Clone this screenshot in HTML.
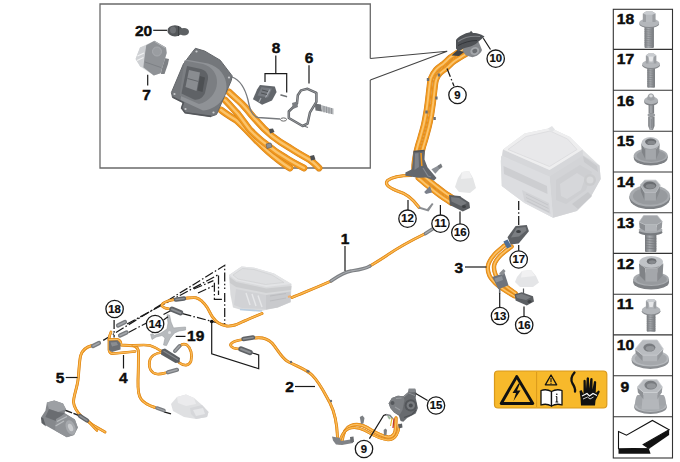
<!DOCTYPE html>
<html>
<head>
<meta charset="utf-8">
<title>Diagram</title>
<style>
html,body{margin:0;padding:0;background:#fff;}
body{width:680px;height:462px;overflow:hidden;font-family:"Liberation Sans",sans-serif;}
svg{display:block;}
text{font-family:"Liberation Sans",sans-serif;font-weight:bold;fill:#0d0d0d;}
.lbl,.col{stroke:#0d0d0d;stroke-width:0.45px;}
.cn{stroke:#0d0d0d;stroke-width:0.2px;}
.lbl{font-size:15.5px;}
.col{font-size:14.6px;}
.cn{font-size:10.6px;text-anchor:middle;}
.ld{stroke:#1a1a1a;stroke-width:1.2;fill:none;}
.dd{stroke:#1a1a1a;stroke-width:1.25;fill:none;stroke-dasharray:9 2.2 1.6 2.2;}
.circ{fill:#fff;stroke:#1a1a1a;stroke-width:1.3;}
.cb{fill:none;stroke:#e0861a;stroke-linecap:round;stroke-linejoin:round;}
.ch{fill:none;stroke:#f8b350;stroke-linecap:round;stroke-linejoin:round;}
</style>
</head>
<body>
<svg width="680" height="462" viewBox="0 0 680 462">
<defs>
<linearGradient id="gm" x1="0" y1="0" x2="1" y2="0">
<stop offset="0" stop-color="#74777b"/><stop offset="0.4" stop-color="#a9acb0"/><stop offset="1" stop-color="#707377"/>
</linearGradient>
<linearGradient id="gv" x1="0" y1="0" x2="0" y2="1">
<stop offset="0" stop-color="#c4c7ca"/><stop offset="1" stop-color="#85888b"/>
</linearGradient>
</defs>
<rect width="680" height="462" fill="#fff"/>

<!-- INSET BOX -->
<g id="inset">
<path d="M370.300 58.500 V4 H100 V168 H370.300 V80" fill="none" stroke="#6a6a6a" stroke-width="1.300"/>
<path d="M370.300 58.500 L447.200 51.200 L370.300 80" fill="none" stroke="#444" stroke-width="1.100" stroke-linejoin="miter"/>
</g>

<!-- RIGHT COLUMN -->
<g id="column">
<rect x="613.300" y="9.300" width="59.200" height="448.700" fill="#fff" stroke="#333" stroke-width="1.100"/>
<g stroke="#333" stroke-width="1.100">
<line x1="613.300" x2="672.500" y1="49.4" y2="49.4"/>
<line x1="613.300" x2="672.500" y1="90.3" y2="90.3"/>
<line x1="613.300" x2="672.500" y1="131.3" y2="131.3"/>
<line x1="613.300" x2="672.500" y1="172.0" y2="172.0"/>
<line x1="613.300" x2="672.500" y1="212.8" y2="212.8"/>
<line x1="613.300" x2="672.500" y1="253.4" y2="253.4"/>
<line x1="613.300" x2="672.500" y1="294.2" y2="294.2"/>
<line x1="613.300" x2="672.500" y1="334.9" y2="334.9"/>
<line x1="613.300" x2="672.500" y1="375.8" y2="375.8"/>
<line x1="613.300" x2="672.500" y1="416.8" y2="416.8"/>
</g>
<rect x="644.5" y="22.7" width="9.4" height="25.3" rx="1" fill="url(#gm)"/>
<path d="M644.5 29.4 L653.9000000000001 30.2 M644.5 31.6 L653.9000000000001 32.4 M644.5 33.8 L653.9000000000001 34.6 M644.5 36.0 L653.9000000000001 36.8 M644.5 38.2 L653.9000000000001 39.0 M644.5 40.4 L653.9000000000001 41.2 M644.5 42.6 L653.9000000000001 43.4 M644.5 44.8 L653.9000000000001 45.6 " stroke="#808387" stroke-width="0.700" fill="none"/>
<ellipse cx="649.2" cy="23.9" rx="10" ry="4.2" fill="#86898d"/>
<ellipse cx="649.2" cy="22.7" rx="10" ry="4.2" fill="#b4b7bb"/>
<path d="M642.8000000000001 13.6 L646.0 11.6 L652.4000000000001 11.6 L655.6 13.6 L655.6 22.1 L642.8000000000001 22.1 Z" fill="#9c9fa3"/>
<path d="M646.0 14.1 H652.4000000000001 V22.1 H646.0 Z" fill="#b8bbbf"/>
<path d="M642.8000000000001 13.6 L646.0 11.6 L652.4000000000001 11.6 L655.6 13.6 L652.4000000000001 14.8 L646.0 14.8 Z" fill="#c9ccd0"/>
<rect x="647.25" y="64" width="7.7" height="23.799999999999997" rx="1" fill="url(#gm)"/>
<path d="M647.25 70.5 L654.95 71.3 M647.25 72.7 L654.95 73.5 M647.25 74.9 L654.95 75.7 M647.25 77.1 L654.95 77.9 M647.25 79.3 L654.95 80.1 M647.25 81.5 L654.95 82.3 M647.25 83.7 L654.95 84.5 M647.25 85.9 L654.95 86.7 " stroke="#808387" stroke-width="0.700" fill="none"/>
<ellipse cx="651.1" cy="65.2" rx="8.9" ry="4" fill="#86898d"/>
<ellipse cx="651.1" cy="64" rx="8.9" ry="4" fill="#b4b7bb"/>
<path d="M645.85 55.5 L648.475 53.5 L653.725 53.5 L656.35 55.5 L656.35 63.5 L645.85 63.5 Z" fill="#9c9fa3"/>
<path d="M648.475 56.0 H653.725 V63.5 H648.475 Z" fill="#b8bbbf"/>
<path d="M645.85 55.5 L648.475 53.5 L653.725 53.5 L656.35 55.5 L653.725 56.7 L648.475 56.7 Z" fill="#c9ccd0"/>
<path d="M648.500 56.500 L653.500 56.500 L652.500 61.500 L649.500 61.500 Z" fill="#e6e7e9"/>
<path d="M648.600 101 H654.100 V113.600 H648.600 Z" fill="url(#gm)"/>
<path d="M648.200 116.400 H654.500 V126 L653 130 H649.700 L648.200 126 Z" fill="url(#gm)"/>
<rect x="649.400" y="113" width="4" height="4" fill="#8d9094"/>
<rect x="647.600" y="113.800" width="7.500" height="2.400" rx="1.200" fill="#9a9da1"/>
<path d="M651.400 119 V128" stroke="#85888c" stroke-width="0.800"/>
<ellipse cx="651.100" cy="101.800" rx="7" ry="3.800" fill="#808387"/>
<ellipse cx="651.100" cy="100.400" rx="7" ry="3.800" fill="#b0b3b7"/>
<path d="M647.300 99.500 C647.300 95 649 93.600 651 93.600 C653 93.600 654.500 95 654.500 99.500 C653 101 649 101 647.300 99.500 Z" fill="#9fa2a6"/>
<ellipse cx="651" cy="96" rx="1.800" ry="1.400" fill="#dcdee0"/>
<ellipse cx="650.7" cy="158.0" rx="16.9" ry="7.6" fill="#7e8185"/>
<rect x="633.8000000000001" y="155.5" width="33.8" height="2.5" fill="#7e8185"/>
<ellipse cx="650.7" cy="155.5" rx="16.9" ry="7.6" fill="#a8abaf"/>
<ellipse cx="651.2" cy="155.8" rx="14.533999999999999" ry="6.08" fill="#979a9e"/>
<path d="M641.2 143.5 L645.5 149.6 L645.5 159.6 L641.8000000000001 152.0 Z" fill="#808387"/>
<path d="M659.8 143.5 L655.9 149.6 L655.9 159.6 L659.1999999999999 152.0 Z" fill="#888b8f"/>
<path d="M645.5 149.6 L655.9 149.6 L655.9 159.6 L645.5 159.6 Z" fill="#a4a7ab"/>
<path d="M641.2 143.5 L645.5 149.6 L655.9 149.6 L659.8 143.5 Z" fill="#9a9da1"/>
<ellipse cx="650.5" cy="143.05" rx="8.999999999999954" ry="6.049999999999997" fill="#c0c3c7"/>
<ellipse cx="650.7" cy="141.8" rx="5.6" ry="3.3" fill="#6a6d71"/>
<ellipse cx="651.4000000000001" cy="142.70000000000002" rx="4.032" ry="2.046" fill="#86898d"/>
<ellipse cx="649.8" cy="198.3" rx="20.3" ry="10.8" fill="#7e8185"/>
<rect x="629.5" y="195.8" width="40.6" height="2.5" fill="#7e8185"/>
<ellipse cx="649.8" cy="195.8" rx="20.3" ry="10.8" fill="#a8abaf"/>
<ellipse cx="650.3" cy="196.10000000000002" rx="17.458000000000002" ry="8.64" fill="#979a9e"/>
<path d="M640.3 185 L644.6 192.4 L644.6 200.6 L640.9 191.7 Z" fill="#808387"/>
<path d="M660.2 185 L655.9 192.4 L655.9 200.6 L659.6 191.7 Z" fill="#888b8f"/>
<path d="M644.6 192.4 L655.9 192.4 L655.9 200.6 L644.6 200.6 Z" fill="#a4a7ab"/>
<path d="M640.3 185 L644.6 180.2 L655.9 180.2 L660.2 185 L655.9 192.4 L644.6 192.4 Z" fill="#abaeb2" stroke="#bdc0c4" stroke-width="0.800" stroke-linejoin="round"/>
<ellipse cx="649.8" cy="185.4" rx="6.5" ry="3.9" fill="#6a6d71"/>
<ellipse cx="650.5" cy="186.3" rx="4.68" ry="2.418" fill="#86898d"/>
<rect x="645" y="232" width="11.400" height="20" rx="1" fill="url(#gm)"/>
<path d="M645 238 L656.400 238.800 M645 240.500 L656.400 241.300 M645 243 L656.400 243.800 M645 245.500 L656.400 246.300 M645 248 L656.400 248.800" stroke="#787b7f" stroke-width="0.800"/>
<ellipse cx="650.600" cy="232.300" rx="12" ry="3.200" fill="#787b7f"/>
<ellipse cx="650.600" cy="230" rx="12" ry="3.200" fill="#a9acb0"/>
<path d="M639.100 222 L645 224.700 L645 231 L639.600 228 Z" fill="#8a8d91"/>
<path d="M662.300 221.500 L656.800 224.700 L656.800 231 L661.800 228 Z" fill="#94979b"/>
<path d="M645 224.700 H656.800 V231.300 H645 Z" fill="#b1b4b8"/>
<path d="M639.100 222 L643.600 215.600 L657.300 215.600 L662.300 221.500 L656.800 224.700 L645 224.700 Z" fill="#a3a6aa" stroke="#b9bcc0" stroke-width="0.700" stroke-linejoin="round"/>
<ellipse cx="651.1" cy="282.5" rx="17.8" ry="7" fill="#7e8185"/>
<rect x="633.3000000000001" y="279" width="35.6" height="3.5" fill="#7e8185"/>
<ellipse cx="651.1" cy="279" rx="17.8" ry="7" fill="#a8abaf"/>
<ellipse cx="651.6" cy="279.3" rx="15.308" ry="5.6000000000000005" fill="#979a9e"/>
<path d="M639 263.5 L645.5 268.2 L645.5 281.59999999999997 L639.6 275.4 Z" fill="#808387"/>
<path d="M663.3 263.5 L657.2 268.2 L657.2 281.59999999999997 L662.6999999999999 275.4 Z" fill="#888b8f"/>
<path d="M645.5 268.2 L657.2 268.2 L657.2 281.59999999999997 L645.5 281.59999999999997 Z" fill="#a4a7ab"/>
<path d="M639 263.5 L645.5 268.2 L657.2 268.2 L663.3 263.5 Z" fill="#9a9da1"/>
<ellipse cx="651.15" cy="261.85" rx="11.849999999999977" ry="5.849999999999994" fill="#c0c3c7"/>
<ellipse cx="651.6" cy="261.2" rx="4.8" ry="3" fill="#6a6d71"/>
<ellipse cx="652.3000000000001" cy="262.09999999999997" rx="3.456" ry="1.8599999999999999" fill="#86898d"/>
<rect x="646.75" y="310" width="8.7" height="21.80000000000001" rx="1" fill="url(#gm)"/>
<path d="M646.75 316.9 L655.45 317.7 M646.75 319.1 L655.45 319.9 M646.75 321.3 L655.45 322.1 M646.75 323.5 L655.45 324.3 M646.75 325.7 L655.45 326.5 M646.75 327.9 L655.45 328.7 M646.75 330.1 L655.45 330.9 " stroke="#808387" stroke-width="0.700" fill="none"/>
<ellipse cx="651.1" cy="311.2" rx="9.3" ry="4.4" fill="#86898d"/>
<ellipse cx="651.1" cy="310" rx="9.3" ry="4.4" fill="#b4b7bb"/>
<path d="M645.9 301 L648.5 299 L653.7 299 L656.3000000000001 301 L656.3000000000001 308.5 L645.9 308.5 Z" fill="#9c9fa3"/>
<path d="M648.5 301.5 H653.7 V308.5 H648.5 Z" fill="#b8bbbf"/>
<path d="M645.9 301 L648.5 299 L653.7 299 L656.3000000000001 301 L653.7 302.2 L648.5 302.2 Z" fill="#c9ccd0"/>
<path d="M648.500 302 L653.700 302 L652.700 307 L649.500 307 Z" fill="#e6e7e9"/>
<ellipse cx="650.3" cy="360.7" rx="18.6" ry="8.2" fill="#8c8f93"/>
<rect x="631.6999999999999" y="358.4" width="37.2" height="2.3" fill="#8c8f93"/>
<ellipse cx="650.3" cy="358.4" rx="18.6" ry="8.2" fill="#b6b9bd"/>
<ellipse cx="650.8" cy="358.7" rx="15.996" ry="6.56" fill="#a5a8ac"/>
<path d="M635.1 348.9 L642.7 355.2 L642.7 361.2 L635.7 353.4 Z" fill="#8e9195"/>
<path d="M663.3 348.9 L657.2 355.2 L657.2 361.2 L662.6999999999999 353.4 Z" fill="#96999d"/>
<path d="M642.7 355.2 L657.2 355.2 L657.2 361.2 L642.7 361.2 Z" fill="#b2b5b9"/>
<path d="M635.1 348.9 L642.7 340 L657.2 340 L663.3 348.9 L657.2 355.2 L642.7 355.2 Z" fill="#b9bcc0" stroke="#cbced2" stroke-width="0.800" stroke-linejoin="round"/>
<ellipse cx="649.4" cy="347.6" rx="6" ry="4" fill="#787b7f"/>
<ellipse cx="650.1" cy="348.5" rx="4.32" ry="2.48" fill="#94979b"/>
<ellipse cx="650.5" cy="407.5" rx="16.2" ry="6.5" fill="#8c8f93"/>
<rect x="634.3" y="405.5" width="32.4" height="2" fill="#8c8f93"/>
<ellipse cx="650.5" cy="405.5" rx="16.2" ry="6.5" fill="#b6b9bd"/>
<ellipse cx="651.0" cy="405.8" rx="13.931999999999999" ry="5.2" fill="#a5a8ac"/>
<path d="M634.8 405.5 C635.3 398 636.5 396 637.5 395 L663.5 395 C664.5 396 665.7 398 666.2 405.5 Z" fill="#a2a5a9"/>
<path d="M642.7 395 L658.3 395 L659.41 409.4 L641.59 409.4 Z" fill="#b4b7bb"/>
<path d="M637.3 387 L643.6 392.5 L643.6 399.5 L637.9 392.5 Z" fill="#8e9195"/>
<path d="M662.4 387 L657.2 392.5 L657.2 399.5 L661.8 392.5 Z" fill="#96999d"/>
<path d="M643.6 392.5 L657.2 392.5 L657.2 399.5 L643.6 399.5 Z" fill="#b2b5b9"/>
<path d="M637.3 387 L643.6 379.7 L657.2 379.7 L662.4 387 L657.2 392.5 L643.6 392.5 Z" fill="#b9bcc0" stroke="#cbced2" stroke-width="0.800" stroke-linejoin="round"/>
<ellipse cx="650.7" cy="385.1" rx="6.3" ry="4.3" fill="#787b7f"/>
<ellipse cx="651.4000000000001" cy="386.0" rx="4.536" ry="2.666" fill="#94979b"/>
<path d="M618.500 448.800 L648.700 448.200 L650.600 453.800 L618.500 453.800 Z" fill="#111"/>
<path d="M643.200 444.500 L669.100 429.700 L669.100 435 L650.600 447.800 L648.700 448.200 Z" fill="#111"/>
<path d="M618.500 431.500 L626.500 435.200 L652.400 420.400 L669.100 429.700 L643.200 444.500 L648.700 448.200 L618.500 448.800 Z" fill="#fff" stroke="#111" stroke-width="1.100" stroke-linejoin="miter"/>

<g transform="translate(616.8 0) scale(1.075 1) translate(-616.8 0)">
<text class="col" x="616.8" y="24.3">18</text>
<text class="col" x="616.8" y="64.3">17</text>
<text class="col" x="616.8" y="105.7">16</text>
<text class="col" x="616.8" y="146.3">15</text>
<text class="col" x="616.8" y="186.8">14</text>
<text class="col" x="616.8" y="227.7">13</text>
<text class="col" x="616.8" y="268.7">12</text>
<text class="col" x="616.8" y="309.3">11</text>
<text class="col" x="616.8" y="350.2">10</text>
<text class="col" x="620.2" y="392.1">9</text>
</g>
</g>


<!-- DASH-DOT LINES -->
<g id="dashes">
<path class="dd" d="M103.200 340.400 L224.700 265.300 V289"/>
<path class="dd" d="M127 324 L218.500 274.600 V295"/>
<path class="dd" d="M128.500 332.500 L146.500 323 M163.500 314.500 L171 310.500"/>
<path class="dd" d="M193.800 289 L213.400 280.700 M214.400 282.800 V299.300 H224.700"/>
<path class="dd" d="M198 293 L213.400 285.900"/>
<path class="dd" d="M224.700 293 V324.500"/>
<path class="dd" d="M114.100 319.900 V337.400"/>
<path class="dd" d="M182.500 313.700 L211.700 321.300 L224.700 324.500"/>
<path class="dd" d="M518.700 201 V227"/>
<path d="M64.600 410 L79 415.500" stroke="#222" stroke-width="1.500" stroke-dasharray="8 1.500" fill="none"/>
<path class="ld" d="M164 411.800 L171 413.800"/>
<path class="ld" d="M211.700 321.500 V353.700 L258.700 368.700 V355 L251 352.500"/>
<circle cx="211.700" cy="321.500" r="1.800" fill="#111"/>
</g>

<!-- SMALL LIGHT UNIT (center) -->
<g id="unit2">
<path d="M229.100 274.900 L241.500 266.400 L254.500 267.700 L274 273.600 L291.500 284 L290.800 302.200 L277.800 307.400 L259.700 311.200 L241.500 310 L233 307.400 L230.400 294.400 Z" fill="#d9dadc"/>
<path d="M229.100 274.900 L241.500 266.400 L254.500 267.700 L274 273.600 L291.500 284 L266.200 287 L236.300 280.500 Z" fill="#e3e4e6"/>
<path d="M233 275 L242.500 268.500 L254 269.500 L272 275 L284 282.500 L265.500 284.500 L238 279 Z" fill="#dedfe1" stroke="#d0d1d3" stroke-width="0.700"/>
<path d="M229.500 277 L236.300 282 L266.200 288.500 L291.500 286 L291 290 L266 293 L236 287 L230 283 Z" fill="#cbccce"/>
<path d="M236 289 L266 295 L266 309 L242 308 L234 305 Z" fill="#d1d2d5"/>
<path d="M266 295 L290.500 291.500 L290.500 302 L277.800 307.400 L266 309.500 Z" fill="#c9cacd"/>
<path d="M246 293 L250 305 M252 294 L256 306 M258 295.500 L262 307" stroke="#e6e7e9" stroke-width="1.400" fill="none"/>
<path d="M270 296 L286 293.500 M270 301 L286 298" stroke="#bcbdc0" stroke-width="1.200" fill="none"/>
<path d="M240 309.500 L262 311" stroke="#b9cde0" stroke-width="1.600" fill="none"/>
<path d="M288 297 L291 296" stroke="#f0b070" stroke-width="2" fill="none"/>
</g>

<!-- BIG LIGHT UNIT (right) -->
<g id="unit1">
<path d="M503 149.500 L524.500 133.600 L550.700 128 L570 137 L582.500 149.500 L599.500 165.500 L600.700 179 L590.500 197.300 L576.800 211 L553 217.700 L524.500 203 L501.800 186 L500.700 161 Z" fill="#dfe0e2"/>
<path d="M549.500 176 L582.500 155 L599.500 165.500 L600.700 179 L590.500 197.300 L576.800 211 L553 217.700 Z" fill="#d3d4d7"/>
<path d="M501 156 L549.500 176 L553 217.700 L524.500 203 L501.800 186 Z" fill="#dcdde0"/>
<path d="M503.500 166 L547 186 L547.500 194 L504 174 Z" fill="#cdced1"/>
<path d="M522 190 L549 203 L550.500 214 L524.500 201 Z" fill="#d2d3d6"/>
<path d="M526 194 L548 205 M526 197.500 L548.500 208.500 M527 201 L549 212" stroke="#c4c5c8" stroke-width="0.900" fill="none"/>
<path d="M503 149.500 L549.500 170 L582.500 149.500 L583 155.500 L549.500 176.500 L502.500 156 Z" fill="#d6d7da"/>
<path d="M503 149.500 L524.500 133.600 L550.700 128 L570 137 L582.500 149.500 L549.500 170 Z" fill="#eeeeef"/>
<path d="M508 149.500 L526 136.500 L550 131 L567.500 139 L577 149.500 L549.500 166.500 Z" fill="#e8e8ea" stroke="#dadbdd" stroke-width="0.800"/>
<path d="M548 128.500 L552 126 L555 129.500 L552 132 Z" fill="#e3e4e6"/>
<path d="M556 180 L580 165 L592 172 L586 190 L566 204 L556 200 Z" fill="#cecfd2"/>
<path d="M560 184 L577 173 L585 178 L581 190 L567 199 L561 196 Z" fill="#d6d7da"/>
<circle cx="590" cy="180" r="6" fill="#cbccce"/>
<circle cx="590" cy="180" r="3.500" fill="#d8d9db"/>
<path d="M572 204 L588 192 L592 196 L578 209 Z" fill="#c8c9cc"/>
<path d="M583 156 L597 166 L598 172 L584 162 Z" fill="#c9cacd"/>
</g>

<!-- WHITE CAPS -->
<g id="caps">
<path d="M458 178 L462 172 L469 171 L473 178 L476 188 L470 193 L459 192 L455 187 Z" fill="#e4e5e6"/>
<path d="M462 172 L469 171 L472 178 L461 179 Z" fill="#f1f1f2"/>
<path d="M517 277 L522 271 L531 270 L536 276 L539 282.500 L533 287 L520 287 L515 282 Z" fill="#e4e5e7"/>
<path d="M522 271 L531 270 L535 276 L521 277.500 Z" fill="#f1f1f2"/>
<path d="M171 404 L177 397 L186 394.500 L194 398 L202 405 L208.500 412 L207 417 L196 419 L184 417 L173 411 Z" fill="#dfe0e2"/>
<path d="M177 397 L186 394.500 L194 398 L196 404 L186 406 L178 403 Z" fill="#ebebed"/>
<path d="M190 408 L202 405 L208.500 412 L207 417 L196 419 L191 414 Z" fill="#d6d7da"/>
<path d="M193 410 L203 408 L205 414 L196 416 Z" fill="#e6e7e9"/>
</g>

<!-- CABLES -->
<g id="cables">
<path d="M221 110 C226 114 231 117 236 120 C244 127 250 134 256 140 C263 147 269 153 276 158 C281 162 285 165 290 168" fill="none" stroke="#cf7e1b" stroke-width="6.8" stroke-linecap="round" stroke-linejoin="round"/>
<path d="M221 110 C226 114 231 117 236 120 C244 127 250 134 256 140 C263 147 269 153 276 158 C281 162 285 165 290 168" fill="none" stroke="#f0981f" stroke-width="6.0" stroke-linecap="round" stroke-linejoin="round"/>
<path d="M221 110 C226 114 231 117 236 120 C244 127 250 134 256 140 C263 147 269 153 276 158 C281 162 285 165 290 168" fill="none" stroke="#fbc46c" stroke-width="2.4000000000000004" stroke-linecap="round" stroke-linejoin="round"/>
<path d="M225 100 C230 105 234 110 238 114 C242 119 246 125 250 130 C255 135 260 140 266 144 C272 149 279 154 286 158 C292 162 298 165 304 168" fill="none" stroke="#cf7e1b" stroke-width="6.8" stroke-linecap="round" stroke-linejoin="round"/>
<path d="M225 100 C230 105 234 110 238 114 C242 119 246 125 250 130 C255 135 260 140 266 144 C272 149 279 154 286 158 C292 162 298 165 304 168" fill="none" stroke="#f0981f" stroke-width="6.0" stroke-linecap="round" stroke-linejoin="round"/>
<path d="M225 100 C230 105 234 110 238 114 C242 119 246 125 250 130 C255 135 260 140 266 144 C272 149 279 154 286 158 C292 162 298 165 304 168" fill="none" stroke="#fbc46c" stroke-width="2.4000000000000004" stroke-linecap="round" stroke-linejoin="round"/>
<path d="M229 92 C233 96 238 100 242 104 C247 109 251 115 256 120 C261 126 266 131 272 136 C277 140 283 144 290 148 C296 152 303 156 309.500 159.600 C313 162 316 165 319 168" fill="none" stroke="#cf7e1b" stroke-width="6.8" stroke-linecap="round" stroke-linejoin="round"/>
<path d="M229 92 C233 96 238 100 242 104 C247 109 251 115 256 120 C261 126 266 131 272 136 C277 140 283 144 290 148 C296 152 303 156 309.500 159.600 C313 162 316 165 319 168" fill="none" stroke="#f0981f" stroke-width="6.0" stroke-linecap="round" stroke-linejoin="round"/>
<path d="M229 92 C233 96 238 100 242 104 C247 109 251 115 256 120 C261 126 266 131 272 136 C277 140 283 144 290 148 C296 152 303 156 309.500 159.600 C313 162 316 165 319 168" fill="none" stroke="#fbc46c" stroke-width="2.4000000000000004" stroke-linecap="round" stroke-linejoin="round"/>
<path d="M464.6 48.6 C463.4 49.2 459.9 51.2 457.5 52.6 C455.2 54.1 452.6 55.5 450.3 57.3 C448.0 59.1 446.1 61.3 443.7 63.4 C441.3 65.4 438.0 67.2 435.9 69.6 C433.8 72.1 432.0 74.8 430.8 78.1 C429.7 81.4 429.6 85.5 429.0 89.6 C428.5 93.7 428.1 98.5 427.5 102.6 C427.0 106.8 426.4 110.9 425.7 114.5 C425.1 118.1 424.7 120.6 423.8 124.3 C422.9 128.1 421.3 133.6 420.3 137.2 C419.3 140.9 418.4 143.3 417.6 146.3 C416.8 149.3 416.1 152.4 415.5 155.5 C415.0 158.6 414.4 161.9 414.2 164.8 C414.0 167.7 414.2 171.6 414.2 173.0" fill="none" stroke="#cf7e1b" stroke-width="5.6" stroke-linecap="round" stroke-linejoin="round"/>
<path d="M464.6 48.6 C463.4 49.2 459.9 51.2 457.5 52.6 C455.2 54.1 452.6 55.5 450.3 57.3 C448.0 59.1 446.1 61.3 443.7 63.4 C441.3 65.4 438.0 67.2 435.9 69.6 C433.8 72.1 432.0 74.8 430.8 78.1 C429.7 81.4 429.6 85.5 429.0 89.6 C428.5 93.7 428.1 98.5 427.5 102.6 C427.0 106.8 426.4 110.9 425.7 114.5 C425.1 118.1 424.7 120.6 423.8 124.3 C422.9 128.1 421.3 133.6 420.3 137.2 C419.3 140.9 418.4 143.3 417.6 146.3 C416.8 149.3 416.1 152.4 415.5 155.5 C415.0 158.6 414.4 161.9 414.2 164.8 C414.0 167.7 414.2 171.6 414.2 173.0" fill="none" stroke="#f0981f" stroke-width="4.8" stroke-linecap="round" stroke-linejoin="round"/>
<path d="M464.6 48.6 C463.4 49.2 459.9 51.2 457.5 52.6 C455.2 54.1 452.6 55.5 450.3 57.3 C448.0 59.1 446.1 61.3 443.7 63.4 C441.3 65.4 438.0 67.2 435.9 69.6 C433.8 72.1 432.0 74.8 430.8 78.1 C429.7 81.4 429.6 85.5 429.0 89.6 C428.5 93.7 428.1 98.5 427.5 102.6 C427.0 106.8 426.4 110.9 425.7 114.5 C425.1 118.1 424.7 120.6 423.8 124.3 C422.9 128.1 421.3 133.6 420.3 137.2 C419.3 140.9 418.4 143.3 417.6 146.3 C416.8 149.3 416.1 152.4 415.5 155.5 C415.0 158.6 414.4 161.9 414.2 164.8 C414.0 167.7 414.2 171.6 414.2 173.0" fill="none" stroke="#fbc46c" stroke-width="1.92" stroke-linecap="round" stroke-linejoin="round"/>
<path d="M467.4 53.4 C466.2 54.1 462.7 56.0 460.5 57.4 C458.2 58.8 455.9 60.0 453.7 61.7 C451.5 63.4 449.6 65.7 447.3 67.6 C445.1 69.6 442.0 71.3 440.1 73.4 C438.2 75.4 437.1 77.1 436.2 79.9 C435.2 82.7 435.1 86.5 434.6 90.4 C434.1 94.3 433.6 99.2 433.1 103.4 C432.5 107.6 431.9 111.8 431.3 115.5 C430.6 119.2 430.2 121.8 429.2 125.7 C428.3 129.5 426.7 135.1 425.7 138.8 C424.7 142.4 423.8 144.7 423.0 147.7 C422.2 150.7 421.6 153.6 421.1 156.5 C420.5 159.4 420.0 162.5 419.8 165.2 C419.6 168.0 419.8 171.7 419.8 173.0" fill="none" stroke="#cf7e1b" stroke-width="5.6" stroke-linecap="round" stroke-linejoin="round"/>
<path d="M467.4 53.4 C466.2 54.1 462.7 56.0 460.5 57.4 C458.2 58.8 455.9 60.0 453.7 61.7 C451.5 63.4 449.6 65.7 447.3 67.6 C445.1 69.6 442.0 71.3 440.1 73.4 C438.2 75.4 437.1 77.1 436.2 79.9 C435.2 82.7 435.1 86.5 434.6 90.4 C434.1 94.3 433.6 99.2 433.1 103.4 C432.5 107.6 431.9 111.8 431.3 115.5 C430.6 119.2 430.2 121.8 429.2 125.7 C428.3 129.5 426.7 135.1 425.7 138.8 C424.7 142.4 423.8 144.7 423.0 147.7 C422.2 150.7 421.6 153.6 421.1 156.5 C420.5 159.4 420.0 162.5 419.8 165.2 C419.6 168.0 419.8 171.7 419.8 173.0" fill="none" stroke="#f0981f" stroke-width="4.8" stroke-linecap="round" stroke-linejoin="round"/>
<path d="M467.4 53.4 C466.2 54.1 462.7 56.0 460.5 57.4 C458.2 58.8 455.9 60.0 453.7 61.7 C451.5 63.4 449.6 65.7 447.3 67.6 C445.1 69.6 442.0 71.3 440.1 73.4 C438.2 75.4 437.1 77.1 436.2 79.9 C435.2 82.7 435.1 86.5 434.6 90.4 C434.1 94.3 433.6 99.2 433.1 103.4 C432.5 107.6 431.9 111.8 431.3 115.5 C430.6 119.2 430.2 121.8 429.2 125.7 C428.3 129.5 426.7 135.1 425.7 138.8 C424.7 142.4 423.8 144.7 423.0 147.7 C422.2 150.7 421.6 153.6 421.1 156.5 C420.5 159.4 420.0 162.5 419.8 165.2 C419.6 168.0 419.8 171.7 419.8 173.0" fill="none" stroke="#fbc46c" stroke-width="1.92" stroke-linecap="round" stroke-linejoin="round"/>
<path d="M418.3 178.0 C419.5 179.0 422.9 182.0 425.3 184.0 C427.8 186.0 430.2 187.9 432.9 190.0 C435.6 192.2 438.4 194.4 441.5 196.6 C444.6 198.8 449.9 202.1 451.6 203.2" fill="none" stroke="#cf7e1b" stroke-width="5.3999999999999995" stroke-linecap="round" stroke-linejoin="round"/>
<path d="M418.3 178.0 C419.5 179.0 422.9 182.0 425.3 184.0 C427.8 186.0 430.2 187.9 432.9 190.0 C435.6 192.2 438.4 194.4 441.5 196.6 C444.6 198.8 449.9 202.1 451.6 203.2" fill="none" stroke="#f0981f" stroke-width="4.6" stroke-linecap="round" stroke-linejoin="round"/>
<path d="M418.3 178.0 C419.5 179.0 422.9 182.0 425.3 184.0 C427.8 186.0 430.2 187.9 432.9 190.0 C435.6 192.2 438.4 194.4 441.5 196.6 C444.6 198.8 449.9 202.1 451.6 203.2" fill="none" stroke="#fbc46c" stroke-width="1.8399999999999999" stroke-linecap="round" stroke-linejoin="round"/>
<path d="M421.7 174.0 C422.9 175.0 426.3 178.0 428.7 180.0 C431.1 182.0 433.5 183.9 436.1 186.0 C438.7 188.0 441.4 190.2 444.5 192.4 C447.5 194.5 452.8 197.7 454.4 198.8" fill="none" stroke="#cf7e1b" stroke-width="5.3999999999999995" stroke-linecap="round" stroke-linejoin="round"/>
<path d="M421.7 174.0 C422.9 175.0 426.3 178.0 428.7 180.0 C431.1 182.0 433.5 183.9 436.1 186.0 C438.7 188.0 441.4 190.2 444.5 192.4 C447.5 194.5 452.8 197.7 454.4 198.8" fill="none" stroke="#f0981f" stroke-width="4.6" stroke-linecap="round" stroke-linejoin="round"/>
<path d="M421.7 174.0 C422.9 175.0 426.3 178.0 428.7 180.0 C431.1 182.0 433.5 183.9 436.1 186.0 C438.7 188.0 441.4 190.2 444.5 192.4 C447.5 194.5 452.8 197.7 454.4 198.8" fill="none" stroke="#fbc46c" stroke-width="1.8399999999999999" stroke-linecap="round" stroke-linejoin="round"/>
<path d="M411 175.500 C402 175.500 392 177 387.500 180.500 C384.500 184 388 187 396 190.500 C406 193.500 412 198 419 207.400" fill="none" stroke="#cf7e1b" stroke-width="3.1" stroke-linecap="round" stroke-linejoin="round"/>
<path d="M411 175.500 C402 175.500 392 177 387.500 180.500 C384.500 184 388 187 396 190.500 C406 193.500 412 198 419 207.400" fill="none" stroke="#f0981f" stroke-width="2.6" stroke-linecap="round" stroke-linejoin="round"/>
<path d="M411 175.500 C402 175.500 392 177 387.500 180.500 C384.500 184 388 187 396 190.500 C406 193.500 412 198 419 207.400" fill="none" stroke="#fbc46c" stroke-width="1.04" stroke-linecap="round" stroke-linejoin="round"/>
<path d="M425.5 233.5 C410 241 396 249 386 256 C380 260 375 263 370 266" fill="none" stroke="#cf7e1b" stroke-width="2.9" stroke-linecap="round" stroke-linejoin="round"/>
<path d="M425.5 233.5 C410 241 396 249 386 256 C380 260 375 263 370 266" fill="none" stroke="#f0981f" stroke-width="2.4" stroke-linecap="round" stroke-linejoin="round"/>
<path d="M425.5 233.5 C410 241 396 249 386 256 C380 260 375 263 370 266" fill="none" stroke="#fbc46c" stroke-width="0.96" stroke-linecap="round" stroke-linejoin="round"/>
<path d="M432.5 229 L425.5 233.500" fill="none" stroke="#7d8084" stroke-width="3.6" stroke-linecap="round" stroke-linejoin="round"/>
<path d="M432.5 229 L425.5 233.500" fill="none" stroke="#a9acb0" stroke-width="1.26" stroke-linecap="round" stroke-linejoin="round"/>
<path d="M331 281 C318 287 305 292 292 297.5" fill="none" stroke="#cf7e1b" stroke-width="2.9" stroke-linecap="round" stroke-linejoin="round"/>
<path d="M331 281 C318 287 305 292 292 297.5" fill="none" stroke="#f0981f" stroke-width="2.4" stroke-linecap="round" stroke-linejoin="round"/>
<path d="M331 281 C318 287 305 292 292 297.5" fill="none" stroke="#fbc46c" stroke-width="0.96" stroke-linecap="round" stroke-linejoin="round"/>
<path d="M370 266 C364 269.5 358 270 351 271 C343 272.500 337 277 331 281" fill="none" stroke="#7d8084" stroke-width="3.4" stroke-linecap="round" stroke-linejoin="round"/>
<path d="M370 266 C364 269.5 358 270 351 271 C343 272.500 337 277 331 281" fill="none" stroke="#a9acb0" stroke-width="1.19" stroke-linecap="round" stroke-linejoin="round"/>
<path d="M262.0 313.5 C260.0 314.3 253.3 317.1 250.0 318.5 C246.7 319.9 244.5 320.9 242.0 322.0 C239.5 323.1 237.5 324.3 235.0 325.0 C232.5 325.7 229.6 326.3 226.8 326.0 C224.1 325.7 220.9 324.5 218.5 323.0 C216.1 321.5 214.3 319.4 212.4 316.8 C210.5 314.2 208.9 310.1 207.2 307.5 C205.5 304.9 203.9 302.9 202.0 301.3 C200.1 299.7 198.6 298.3 195.9 297.8 C193.2 297.3 187.3 298.1 185.6 298.2" fill="none" stroke="#cf7e1b" stroke-width="2.9" stroke-linecap="round" stroke-linejoin="round"/>
<path d="M262.0 313.5 C260.0 314.3 253.3 317.1 250.0 318.5 C246.7 319.9 244.5 320.9 242.0 322.0 C239.5 323.1 237.5 324.3 235.0 325.0 C232.5 325.7 229.6 326.3 226.8 326.0 C224.1 325.7 220.9 324.5 218.5 323.0 C216.1 321.5 214.3 319.4 212.4 316.8 C210.5 314.2 208.9 310.1 207.2 307.5 C205.5 304.9 203.9 302.9 202.0 301.3 C200.1 299.7 198.6 298.3 195.9 297.8 C193.2 297.3 187.3 298.1 185.6 298.2" fill="none" stroke="#f0981f" stroke-width="2.4" stroke-linecap="round" stroke-linejoin="round"/>
<path d="M262.0 313.5 C260.0 314.3 253.3 317.1 250.0 318.5 C246.7 319.9 244.5 320.9 242.0 322.0 C239.5 323.1 237.5 324.3 235.0 325.0 C232.5 325.7 229.6 326.3 226.8 326.0 C224.1 325.7 220.9 324.5 218.5 323.0 C216.1 321.5 214.3 319.4 212.4 316.8 C210.5 314.2 208.9 310.1 207.2 307.5 C205.5 304.9 203.9 302.9 202.0 301.3 C200.1 299.7 198.6 298.3 195.9 297.8 C193.2 297.3 187.3 298.1 185.6 298.2" fill="none" stroke="#fbc46c" stroke-width="0.96" stroke-linecap="round" stroke-linejoin="round"/>
<path d="M175.0 299.5 C173.8 299.8 170.0 300.4 168.0 301.0 C166.0 301.6 164.0 302.6 163.0 303.4 C162.0 304.2 161.6 305.0 161.9 305.8 C162.2 306.6 163.7 307.5 165.0 308.0 C166.3 308.5 169.2 308.8 170.0 309.0" fill="none" stroke="#cf7e1b" stroke-width="2.7" stroke-linecap="round" stroke-linejoin="round"/>
<path d="M175.0 299.5 C173.8 299.8 170.0 300.4 168.0 301.0 C166.0 301.6 164.0 302.6 163.0 303.4 C162.0 304.2 161.6 305.0 161.9 305.8 C162.2 306.6 163.7 307.5 165.0 308.0 C166.3 308.5 169.2 308.8 170.0 309.0" fill="none" stroke="#f0981f" stroke-width="2.2" stroke-linecap="round" stroke-linejoin="round"/>
<path d="M175.0 299.5 C173.8 299.8 170.0 300.4 168.0 301.0 C166.0 301.6 164.0 302.6 163.0 303.4 C162.0 304.2 161.6 305.0 161.9 305.8 C162.2 306.6 163.7 307.5 165.0 308.0 C166.3 308.5 169.2 308.8 170.0 309.0" fill="none" stroke="#fbc46c" stroke-width="0.8800000000000001" stroke-linecap="round" stroke-linejoin="round"/>
<path d="M243 339.500 C238 340 231 342 230.500 345 C231 348 236 349 241 349" fill="none" stroke="#cf7e1b" stroke-width="2.7" stroke-linecap="round" stroke-linejoin="round"/>
<path d="M243 339.500 C238 340 231 342 230.500 345 C231 348 236 349 241 349" fill="none" stroke="#f0981f" stroke-width="2.2" stroke-linecap="round" stroke-linejoin="round"/>
<path d="M243 339.500 C238 340 231 342 230.500 345 C231 348 236 349 241 349" fill="none" stroke="#fbc46c" stroke-width="0.8800000000000001" stroke-linecap="round" stroke-linejoin="round"/>
<path d="M255 338 C262 337 268 339 272 343 C278 350 281 357 287 361 C296 366 306 369 312 375 C320 383 325 394 330 403 C335 413 337 424 337.500 437" fill="none" stroke="#cf7e1b" stroke-width="2.9" stroke-linecap="round" stroke-linejoin="round"/>
<path d="M255 338 C262 337 268 339 272 343 C278 350 281 357 287 361 C296 366 306 369 312 375 C320 383 325 394 330 403 C335 413 337 424 337.500 437" fill="none" stroke="#f0981f" stroke-width="2.4" stroke-linecap="round" stroke-linejoin="round"/>
<path d="M255 338 C262 337 268 339 272 343 C278 350 281 357 287 361 C296 366 306 369 312 375 C320 383 325 394 330 403 C335 413 337 424 337.500 437" fill="none" stroke="#fbc46c" stroke-width="0.96" stroke-linecap="round" stroke-linejoin="round"/>
<path d="M342 441 C343 434 345 427.500 351 425.500 C357 423.500 362 424.500 367 427.500 C374 431.500 380 436 388 437 C394 437.500 395.500 432 395.500 427 C396 423 396 421 396 418" fill="none" stroke="#cf7e1b" stroke-width="3.3" stroke-linecap="round" stroke-linejoin="round"/>
<path d="M342 441 C343 434 345 427.500 351 425.500 C357 423.500 362 424.500 367 427.500 C374 431.500 380 436 388 437 C394 437.500 395.500 432 395.500 427 C396 423 396 421 396 418" fill="none" stroke="#f0981f" stroke-width="2.8" stroke-linecap="round" stroke-linejoin="round"/>
<path d="M342 441 C343 434 345 427.500 351 425.500 C357 423.500 362 424.500 367 427.500 C374 431.500 380 436 388 437 C394 437.500 395.500 432 395.500 427 C396 423 396 421 396 418" fill="none" stroke="#fbc46c" stroke-width="1.1199999999999999" stroke-linecap="round" stroke-linejoin="round"/>
<path d="M339 443 C341 437 343 431 349 428.500 C355 426.500 360 428 365 430.500 C372 434.500 379 439 388 440 C396 440 399 432 399 425" fill="none" stroke="#cf7e1b" stroke-width="2.7" stroke-linecap="round" stroke-linejoin="round"/>
<path d="M339 443 C341 437 343 431 349 428.500 C355 426.500 360 428 365 430.500 C372 434.500 379 439 388 440 C396 440 399 432 399 425" fill="none" stroke="#f0981f" stroke-width="2.2" stroke-linecap="round" stroke-linejoin="round"/>
<path d="M339 443 C341 437 343 431 349 428.500 C355 426.500 360 428 365 430.500 C372 434.500 379 439 388 440 C396 440 399 432 399 425" fill="none" stroke="#fbc46c" stroke-width="0.8800000000000001" stroke-linecap="round" stroke-linejoin="round"/>
<path d="M504.5 245.5 C502.8 247.0 497.0 251.4 494.3 254.6 C491.6 257.8 489.1 261.4 488.2 264.8 C487.3 268.2 488.0 271.9 489.2 275.0 C490.4 278.1 492.8 280.6 495.3 283.1 C497.9 285.6 501.3 288.0 504.5 290.2 C507.7 292.4 512.9 295.3 514.6 296.3" fill="none" stroke="#cf7e1b" stroke-width="4.4" stroke-linecap="round" stroke-linejoin="round"/>
<path d="M504.5 245.5 C502.8 247.0 497.0 251.4 494.3 254.6 C491.6 257.8 489.1 261.4 488.2 264.8 C487.3 268.2 488.0 271.9 489.2 275.0 C490.4 278.1 492.8 280.6 495.3 283.1 C497.9 285.6 501.3 288.0 504.5 290.2 C507.7 292.4 512.9 295.3 514.6 296.3" fill="none" stroke="#f0981f" stroke-width="3.6" stroke-linecap="round" stroke-linejoin="round"/>
<path d="M504.5 245.5 C502.8 247.0 497.0 251.4 494.3 254.6 C491.6 257.8 489.1 261.4 488.2 264.8 C487.3 268.2 488.0 271.9 489.2 275.0 C490.4 278.1 492.8 280.6 495.3 283.1 C497.9 285.6 501.3 288.0 504.5 290.2 C507.7 292.4 512.9 295.3 514.6 296.3" fill="none" stroke="#fbc46c" stroke-width="1.4400000000000002" stroke-linecap="round" stroke-linejoin="round"/>
<path d="M511.6 246.5 C509.7 248.0 503.3 252.5 500.4 255.6 C497.5 258.6 495.1 261.7 494.3 264.8 C493.5 267.9 494.3 271.2 495.3 274.0 C496.3 276.8 498.3 279.1 500.5 281.5 C502.7 283.9 506.0 286.2 508.5 288.2 C511.0 290.2 514.4 292.4 515.6 293.3" fill="none" stroke="#cf7e1b" stroke-width="4.4" stroke-linecap="round" stroke-linejoin="round"/>
<path d="M511.6 246.5 C509.7 248.0 503.3 252.5 500.4 255.6 C497.5 258.6 495.1 261.7 494.3 264.8 C493.5 267.9 494.3 271.2 495.3 274.0 C496.3 276.8 498.3 279.1 500.5 281.5 C502.7 283.9 506.0 286.2 508.5 288.2 C511.0 290.2 514.4 292.4 515.6 293.3" fill="none" stroke="#f0981f" stroke-width="3.6" stroke-linecap="round" stroke-linejoin="round"/>
<path d="M511.6 246.5 C509.7 248.0 503.3 252.5 500.4 255.6 C497.5 258.6 495.1 261.7 494.3 264.8 C493.5 267.9 494.3 271.2 495.3 274.0 C496.3 276.8 498.3 279.1 500.5 281.5 C502.7 283.9 506.0 286.2 508.5 288.2 C511.0 290.2 514.4 292.4 515.6 293.3" fill="none" stroke="#fbc46c" stroke-width="1.4400000000000002" stroke-linecap="round" stroke-linejoin="round"/>
<path d="M92 345.500 C86 347 82 350 80.500 356 C79 364 79 372 78 380 C77 388 73.500 396 73.500 402 C74 408 77 412 82 417 C88 422 97 428 105 432" fill="none" stroke="#cf7e1b" stroke-width="2.9" stroke-linecap="round" stroke-linejoin="round"/>
<path d="M92 345.500 C86 347 82 350 80.500 356 C79 364 79 372 78 380 C77 388 73.500 396 73.500 402 C74 408 77 412 82 417 C88 422 97 428 105 432" fill="none" stroke="#f0981f" stroke-width="2.4" stroke-linecap="round" stroke-linejoin="round"/>
<path d="M92 345.500 C86 347 82 350 80.500 356 C79 364 79 372 78 380 C77 388 73.500 396 73.500 402 C74 408 77 412 82 417 C88 422 97 428 105 432" fill="none" stroke="#fbc46c" stroke-width="0.96" stroke-linecap="round" stroke-linejoin="round"/>
<path d="M88 421 C91 424 94 428 97 430.500" fill="none" stroke="#cf7e1b" stroke-width="2.5" stroke-linecap="round" stroke-linejoin="round"/>
<path d="M88 421 C91 424 94 428 97 430.500" fill="none" stroke="#f0981f" stroke-width="2.0" stroke-linecap="round" stroke-linejoin="round"/>
<path d="M88 421 C91 424 94 428 97 430.500" fill="none" stroke="#fbc46c" stroke-width="0.8" stroke-linecap="round" stroke-linejoin="round"/>
<path d="M111 332 C109.500 335 109 337 109 340 L109 350 C109.500 353 111 354 114 353.500 L135 351.500" fill="none" stroke="#cf7e1b" stroke-width="2.7" stroke-linecap="round" stroke-linejoin="round"/>
<path d="M111 332 C109.500 335 109 337 109 340 L109 350 C109.500 353 111 354 114 353.500 L135 351.500" fill="none" stroke="#f0981f" stroke-width="2.2" stroke-linecap="round" stroke-linejoin="round"/>
<path d="M111 332 C109.500 335 109 337 109 340 L109 350 C109.500 353 111 354 114 353.500 L135 351.500" fill="none" stroke="#fbc46c" stroke-width="0.8800000000000001" stroke-linecap="round" stroke-linejoin="round"/>
<path d="M109 339.700 L117 339.500 C120 340 121 342 121 345 L133 345.700 C137 346.500 138.500 349 138.500 353 C138.500 362 138.300 372 138 381 C137.800 389 138 395 141 399 C144 403.500 149 405.500 155 407.500" fill="none" stroke="#cf7e1b" stroke-width="2.9" stroke-linecap="round" stroke-linejoin="round"/>
<path d="M109 339.700 L117 339.500 C120 340 121 342 121 345 L133 345.700 C137 346.500 138.500 349 138.500 353 C138.500 362 138.300 372 138 381 C137.800 389 138 395 141 399 C144 403.500 149 405.500 155 407.500" fill="none" stroke="#f0981f" stroke-width="2.4" stroke-linecap="round" stroke-linejoin="round"/>
<path d="M109 339.700 L117 339.500 C120 340 121 342 121 345 L133 345.700 C137 346.500 138.500 349 138.500 353 C138.500 362 138.300 372 138 381 C137.800 389 138 395 141 399 C144 403.500 149 405.500 155 407.500" fill="none" stroke="#fbc46c" stroke-width="0.96" stroke-linecap="round" stroke-linejoin="round"/>
<path d="M133 345.500 C140 345 146 344.500 150 345.500 C155 347 158 349 161 351" fill="none" stroke="#cf7e1b" stroke-width="2.7" stroke-linecap="round" stroke-linejoin="round"/>
<path d="M133 345.500 C140 345 146 344.500 150 345.500 C155 347 158 349 161 351" fill="none" stroke="#f0981f" stroke-width="2.2" stroke-linecap="round" stroke-linejoin="round"/>
<path d="M133 345.500 C140 345 146 344.500 150 345.500 C155 347 158 349 161 351" fill="none" stroke="#fbc46c" stroke-width="0.8800000000000001" stroke-linecap="round" stroke-linejoin="round"/>
<path d="M161.500 352.500 C156 353 150.500 356 149.500 361.500 C148.500 368 151 373 157 374 C160 374.500 163 373.500 167 372.500" fill="none" stroke="#cf7e1b" stroke-width="2.7" stroke-linecap="round" stroke-linejoin="round"/>
<path d="M161.500 352.500 C156 353 150.500 356 149.500 361.500 C148.500 368 151 373 157 374 C160 374.500 163 373.500 167 372.500" fill="none" stroke="#f0981f" stroke-width="2.2" stroke-linecap="round" stroke-linejoin="round"/>
<path d="M161.500 352.500 C156 353 150.500 356 149.500 361.500 C148.500 368 151 373 157 374 C160 374.500 163 373.500 167 372.500" fill="none" stroke="#fbc46c" stroke-width="0.8800000000000001" stroke-linecap="round" stroke-linejoin="round"/>
<path d="M179 362.500 C184 366.500 189 366 191 361 C192.500 355 191 348 187 345 C184 343.500 181.500 344.500 180 346" fill="none" stroke="#cf7e1b" stroke-width="2.7" stroke-linecap="round" stroke-linejoin="round"/>
<path d="M179 362.500 C184 366.500 189 366 191 361 C192.500 355 191 348 187 345 C184 343.500 181.500 344.500 180 346" fill="none" stroke="#f0981f" stroke-width="2.2" stroke-linecap="round" stroke-linejoin="round"/>
<path d="M179 362.500 C184 366.500 189 366 191 361 C192.500 355 191 348 187 345 C184 343.500 181.500 344.500 180 346" fill="none" stroke="#fbc46c" stroke-width="0.8800000000000001" stroke-linecap="round" stroke-linejoin="round"/>
</g>

<!-- PARTS -->
<g id="parts">
<line x1="118" y1="325.5" x2="125" y2="322" stroke="#7a7d81" stroke-width="4.2" stroke-linecap="round"/>
<line x1="118" y1="325.5" x2="125" y2="322" stroke="#a3a6aa" stroke-width="1.47" stroke-linecap="round"/>
<line x1="120" y1="335.5" x2="126.5" y2="332.5" stroke="#7a7d81" stroke-width="4.2" stroke-linecap="round"/>
<line x1="120" y1="335.5" x2="126.5" y2="332.5" stroke="#a3a6aa" stroke-width="1.47" stroke-linecap="round"/>
<line x1="93" y1="346" x2="99" y2="343" stroke="#7a7d81" stroke-width="4.2" stroke-linecap="round"/>
<line x1="93" y1="346" x2="99" y2="343" stroke="#a3a6aa" stroke-width="1.47" stroke-linecap="round"/>
<line x1="176" y1="299.6" x2="184" y2="298.5" stroke="#5f6266" stroke-width="4.4" stroke-linecap="round"/>
<line x1="176" y1="299.6" x2="184" y2="298.5" stroke="#8c8f93" stroke-width="1.54" stroke-linecap="round"/>
<line x1="172" y1="309.3" x2="180.5" y2="312.8" stroke="#5f6266" stroke-width="5.4" stroke-linecap="round"/>
<line x1="172" y1="309.3" x2="180.5" y2="312.8" stroke="#8c8f93" stroke-width="1.89" stroke-linecap="round"/>
<line x1="243.5" y1="339" x2="253" y2="337.5" stroke="#5f6266" stroke-width="4.4" stroke-linecap="round"/>
<line x1="243.5" y1="339" x2="253" y2="337.5" stroke="#8c8f93" stroke-width="1.54" stroke-linecap="round"/>
<line x1="241" y1="349" x2="250" y2="352.5" stroke="#5f6266" stroke-width="5.4" stroke-linecap="round"/>
<line x1="241" y1="349" x2="250" y2="352.5" stroke="#8c8f93" stroke-width="1.89" stroke-linecap="round"/>
<line x1="157" y1="408" x2="164" y2="410.5" stroke="#7a7d81" stroke-width="3.6" stroke-linecap="round"/>
<line x1="157" y1="408" x2="164" y2="410.5" stroke="#a3a6aa" stroke-width="1.26" stroke-linecap="round"/>
<line x1="80" y1="416" x2="87" y2="420.5" stroke="#5f6266" stroke-width="4.4" stroke-linecap="round"/>
<line x1="80" y1="416" x2="87" y2="420.5" stroke="#8c8f93" stroke-width="1.54" stroke-linecap="round"/>
<line x1="168" y1="372.3" x2="177" y2="369.8" stroke="#7a7d81" stroke-width="4.2" stroke-linecap="round"/>
<line x1="168" y1="372.3" x2="177" y2="369.8" stroke="#a3a6aa" stroke-width="1.47" stroke-linecap="round"/>
<line x1="175" y1="351" x2="179.5" y2="346" stroke="#7a7d81" stroke-width="4.0" stroke-linecap="round"/>
<line x1="175" y1="351" x2="179.5" y2="346" stroke="#a3a6aa" stroke-width="1.4" stroke-linecap="round"/>
<path d="M232 77 C240 80 245 88 248 100 C250 110 252 116 258 117.500 L280 119" fill="none" stroke="#777a7e" stroke-width="1.300"/>
<ellipse cx="283.500" cy="119.500" rx="3" ry="1.600" fill="none" stroke="#666" stroke-width="1"/>
<path d="M195.4 48.3 L204.6 51 L220.2 60.2 L232.2 75.9 L231.3 80.5 L216.5 114.5 L211 116.4 L185.2 112.7 L181.6 108 L183.4 102.6 L172.4 97 L171.4 92.5 L183.4 64 L191.7 52.9 Z" fill="#74777b" stroke="#63666a" stroke-width="1" stroke-linejoin="round" />
<path d="M186 59.500 L208 63.500 C219 66.500 226.500 76 226.500 87 C226 99 216 109.500 203 110.500 L180.500 100 Z" fill="#8f9296"/>
<path d="M184.500 60.500 L203 64 C212 66.500 217.500 74 217 83 C216.500 93 209 102 199 104 L179.500 95.500 Z" fill="#7b7e82"/>
<path d="M187 66 L201 69 C206 70.500 208.500 74 208 79 L205 93 C203 98 198 100.500 194 99.500 L181.500 93.500 Z" fill="#5f6266"/>
<path d="M189 70 L200 72.500 L196.500 91 L185.500 87 Z" fill="#898c90"/><path d="M187.500 78.500 L198.500 81.500" stroke="#63666a" stroke-width="1"/>
<path d="M200 76 L205 77.500 L202.500 92 L197.500 90.500 Z" fill="#4d5053"/>
<path d="M172.400 97 L183.400 102.600 L181.600 108 L185.200 112.700 L211 116.400" stroke="#55585c" stroke-width="1.600" fill="none"/>
<circle cx="196.5" cy="51.5" r="1.100" fill="#c9cbcd"/>
<circle cx="229" cy="77.5" r="1.100" fill="#c9cbcd"/>
<circle cx="213.5" cy="112.5" r="1.100" fill="#c9cbcd"/>
<circle cx="185.5" cy="109" r="1.100" fill="#c9cbcd"/>
<circle cx="174.5" cy="94" r="1.100" fill="#c9cbcd"/>
<path d="M269 129 L273 128.5 L274.5 132 L270 133.5 Z" fill="#4c4f52" />
<path d="M266 144 L271 143 L272 147 L267 148.5 Z" fill="#8d9093" stroke="#55585b" stroke-width="0.6" stroke-linejoin="round" />
<path d="M310 156 L314 155 L315.5 159.5 L311 160.5 Z" fill="#4c4f52" />
<ellipse cx="175" cy="30.800" rx="7.600" ry="5.600" fill="#54575a"/>
<ellipse cx="184" cy="31.800" rx="5" ry="3.800" fill="#5d6063"/>
<ellipse cx="173" cy="30" rx="3" ry="3.600" fill="#6f7276"/>
<path d="M178.500 26 V36" stroke="#3f4245" stroke-width="1"/>
<path d="M162 57.4 L169 59 L168 64 L164.5 74 L161 74 Z" fill="#7e8185" />
<path d="M154.5 40.8 L166 47.6 L166.7 52.9 L160.6 73.3 L153.8 75.6 L140.2 66.5 L135.6 59 L140 47.6 Z" fill="#d9dbdd" />
<path d="M154.500 40.800 L166 47.600 L166.700 53 L160.600 73.300 L153.800 75.600 L143.200 67.300 C143 59 144 51 146.200 45.300 Z" fill="#8f9296"/>
<path d="M146.200 45.300 L143.200 67.300 L140.200 66.500 L135.600 59 L140 47.600 Z" fill="#cfd1d4"/>
<path d="M137.500 56 L144 53 M137 60.500 L143.500 57.500" stroke="#f0f1f2" stroke-width="1.300"/>
<circle cx="157" cy="51.500" r="4.500" fill="#9a9da1" stroke="#a9acb0" stroke-width="0.900"/>
<path d="M145 62 L161 67.500" stroke="#7b7e82" stroke-width="0.900"/>
<path d="M154.500 41.500 L165.500 48" stroke="#b3b6b9" stroke-width="1"/>
<path d="M260 85 L274.8 86.5 L276.6 92.1 L272 100.6 L262.1 104.8 L252.9 99.2 L257.2 89.3 Z" fill="#62666b" />
<path d="M261.5 87 L272 88.5 L268 97.5 L257.5 95.5 Z" fill="#777b81" />
<path d="M270 89.500 L265.500 97.500 M261 98 L259 102" stroke="#a3a7ad" stroke-width="1.200"/>
<path d="M262 90 L268 91.500 M261 93 L267 94.500" stroke="#4a4d50" stroke-width="0.900"/>
<path d="M281 95 L286.400 96.600" stroke="#707376" stroke-width="1.600" stroke-linecap="round"/>
<path d="M301 90.400 L307.500 88.800 L316.400 92.900 L316.400 101.800 L310 112.300 L307.500 123.700 L302.600 126 L288.800 118 L288.800 111.500 L297 103.400 L297.800 95.300 Z" fill="none" stroke="#5f6266" stroke-width="2.500" stroke-linejoin="round"/>
<path d="M301 90.400 L307.500 88.800 L316.400 92.900 L316.400 101.800 L310 112.300 L307.500 123.700 L302.600 126 L288.800 118 L288.800 111.500 L297 103.400 L297.800 95.300 Z" fill="none" stroke="#b9bbbe" stroke-width="0.600" stroke-linejoin="round"/>
<path d="M292 103 L297 101.5 L298 107 L293 109 Z" fill="#7b7e82" />
<path d="M304 126 L308 127.500" stroke="#6f7276" stroke-width="1.200"/>
<path d="M314.8 103.5 L321 104.5 L322 111.5 L315.5 110.5 Z" fill="#6c6f73" />
<path d="M321 105 L333.5 108.5 L333.5 114.5 L322 111.5 Z" fill="#b4b7ba" />
<path d="M324 106 V112.500 M326.500 106.700 V113 M329 107.500 V113.700 M331.500 108 V114" stroke="#8b8e92" stroke-width="0.800"/>
<path d="M464 46.500 L478.500 41.500 L482 50 C480.500 54 476.500 56.500 472.500 57.200 L466 55.500 L462.500 51 Z" fill="#85888c"/>
<ellipse cx="474.800" cy="51" rx="4.600" ry="3.800" transform="rotate(-25 474.800 51)" fill="#a4a7ab"/>
<ellipse cx="474.800" cy="51" rx="2.600" ry="2.100" transform="rotate(-25 474.800 51)" fill="#6c6f73"/>
<path d="M451.5 55.6 L457.6 50 L464 52 L459 56 Z" fill="#3f4245" />
<path d="M456 40 C458 36.500 465 33 470 32.200 L471 30.800 L473 33 C478 33 483 35 484.500 36.700 L478.500 41.500 C476 45 468 47.500 464 48.200 L458.500 51.500 L456 48.500 Z" fill="#4f5256"/>
<path d="M458 41.500 C463 38 471 35.500 480 36.500" stroke="#808387" stroke-width="1.100" fill="none"/>
<path d="M458 45.500 C464 42.500 470 40.500 477 40.500" stroke="#33363a" stroke-width="1" fill="none"/>
<rect x="426.8" y="78.0" width="2.400" height="3" fill="#6a6d71"/>
<rect x="437.8" y="73.5" width="2.400" height="3" fill="#6a6d71"/>
<rect x="435.2" y="96.5" width="2.400" height="3" fill="#6a6d71"/>
<rect x="425.3" y="110.5" width="2.400" height="3" fill="#6a6d71"/>
<rect x="433.40000000000003" y="117.0" width="2.400" height="3" fill="#6a6d71"/>
<path d="M431.4 169.2 L439.8 164.7 L440.5 168 L435.3 173.8 Z" fill="#8e9298" />
<path d="M437.5 166 L441 163.5 L442.5 167 L439.5 169 Z" fill="#777a7e" />
<path d="M413.200 151.700 L424.900 150.400 L424.500 159.500 L427.500 167.300 L434 175 L436.500 178 L434 180.500 L426 177.500 L418.400 177.800 L405.400 175.800 L405.400 172.500 L411.900 169.200 L413 160 Z" fill="#63676d"/>
<path d="M415 153.500 L418.500 153 L419 167 L414.500 170 Z" fill="#7f838a"/>
<path d="M421 153 L421.800 166" stroke="#f0981f" stroke-width="1.500"/>
<path d="M423 168 L428 176 L431 177" stroke="#858990" stroke-width="1.200" fill="none"/>
<path d="M413.500 151.500 L424.500 150.500" stroke="#4d5055" stroke-width="1.400"/>
<path d="M424.2 192 L430 186 L432 192.6 L426 194 Z" fill="#7a7f8a" />
<path d="M419 206.5 L427 209 L432 203 L433.5 204 L428.5 211.5 L418.5 208.5 Z" fill="#8b8e92" />
<path d="M459.900 196 V201.500" stroke="#55585b" stroke-width="1.200"/>
<path d="M449 195 L459.5 196 L469.3 202.5 L470 208 L462.8 211.4 L449.8 205 Z" fill="#5a5d61" />
<path d="M451 197 L459 198 L467 203 L461 206 L451.5 201.5 Z" fill="#777a7e" />
<ellipse cx="464" cy="206.500" rx="2" ry="1.500" fill="#3e4144"/>
<path d="M515.6 226.1 L526.8 225.1 L528.9 231.2 L518.7 243.4 L510.6 244.5 L507.5 237.3 Z" fill="#5d6064" />
<path d="M516.5 228 L525.5 227 L526.5 230.5 L519 236.5 L511 237.5 Z" fill="#7b7e82" />
<ellipse cx="518.500" cy="231.500" rx="2.400" ry="1.600" fill="#3e4144"/>
<path d="M503.4 241.4 L507.5 239.5 L511.6 246.5 L507 248.5 Z" fill="#4f6f96" />
<path d="M492.2 277 L504.5 273 L508.5 285.2 L498.4 289.2 Z" fill="#6f747c" />
<path d="M499 273.5 L503.5 269 L505.5 271 L503 275.5 Z" fill="#8b8e92" />
<path d="M494.5 278.5 L502 276 L503 280 L496 282.5 Z" fill="#8d9299" />
<path d="M499.700 288.500 V293.500" stroke="#6d7074" stroke-width="1.600"/>
<path d="M523.500 288.500 V294" stroke="#55585b" stroke-width="1.200"/>
<path d="M514.6 294.3 L521.8 292.3 L533 296.3 L534 301.4 L526.8 305.5 L515.6 300.4 Z" fill="#5b5e62" />
<path d="M516 295.3 L521.5 293.8 L531 297.3 L526 300 L517 298 Z" fill="#797c80" />
<ellipse cx="529.500" cy="301.500" rx="2" ry="1.500" fill="#3e4144"/>
<path d="M108.8 340.8 L117.5 340.2 L120.5 343.5 L120.5 349.5 L112 352 L108.8 350 Z" fill="#6d7074" />
<path d="M110.5 342.5 L116.5 342 L118 345 L112 346.5 Z" fill="#8a8d91" />
<path d="M161.5 349.5 L165 348.5 L180 358 L179.5 362.5 L175.5 363 L161 354.5 Z" fill="#5c5f63" />
<path d="M163.500 351 L178 359.800" stroke="#85888c" stroke-width="1.200"/>
<path d="M167 314.700 L169.500 315 L171 322 L173.500 328 L179 327.500 L185.600 327 L185.600 330 L179 331 L174.500 333 L170 338.500 L166.500 345.600 L163.500 345 L165 338 L162 335.500 L156 337 L152 339.500 L150.600 334.300 L153 333.800 L154 335.500 L161 333 L167 329 L168 323 Z" fill="#b7babd" stroke="#9c9fa3" stroke-width="0.600"/>
<circle cx="169.500" cy="332.500" r="1.500" fill="#e3e4e6"/>
<path d="M46.9 402.6 L54.3 400.4 L63 403.4 L66 409.3 L64.6 413 L74.9 419.6 L77.8 427.6 L74 435 L66.8 437.2 L52 429 L43.2 424 L41 417.4 L45.4 410.7 Z" fill="#85888c" />
<path d="M46.9 402.6 L54.3 400.4 L63 403.4 L66 409.3 L58 412 L49 409 Z" fill="#9da0a4" />
<path d="M49 409 L58 412 L64.6 413 L56 421 L45.4 417 Z" fill="#6a6d71" />
<path d="M56 419 L65 414 L74.9 419.6 L77.8 427.6 L74 435 L66.8 437.2 L55 430.5 Z" fill="#909397" />
<path d="M57 421.500 L67 416.500 M55.500 426 L64 421" stroke="#b9bcbf" stroke-width="1.300"/>
<ellipse cx="70.600" cy="427.500" rx="4.600" ry="7.600" transform="rotate(-22 70.600 427.500)" fill="#a6a9ad"/>
<ellipse cx="70.600" cy="427.500" rx="2.300" ry="4" transform="rotate(-22 70.600 427.500)" fill="#c9cbce"/>
<path d="M43.2 418 L41 417.4 L41.5 423 L46 426.5 Z" fill="#5d6064" />
<path d="M388.7 403.3 L391.9 397.9 L397.9 395.7 L403.3 396.2 L408.1 391.9 L408.7 388.7 L415.2 388.7 L416.3 393 L415.7 397.9 L417.9 408.1 L415.7 413.5 L407.1 417.9 L403.3 421.7 L400.6 421.1 L398.9 415.7 L394.1 412.5 L390.3 408.1 Z" fill="#686b6f" />
<path d="M388.7 403.3 L391.9 397.9 L397.9 395.7 L403.3 396.2 L404.5 400 L402.5 410 L399.5 415 L394.1 412.5 L390.3 408.1 Z" fill="#7c7f83" />
<circle cx="392.500" cy="403" r="2" fill="#55585c"/>
<path d="M396 398.500 L401.500 398 M395 407 L400 410" stroke="#9a9da1" stroke-width="1.200"/>
<circle cx="410.800" cy="405.400" r="6.200" fill="#54575b"/>
<circle cx="410.800" cy="405.400" r="4.200" fill="#787b7f"/>
<circle cx="410.800" cy="405.400" r="2" fill="#4b4e52"/>
<path d="M408.7 388.7 L415.2 388.7 L416 392 L409.5 392.5 Z" fill="#85888c" />
<path d="M404 397 L408.500 393 L415 395.500" stroke="#8d9094" stroke-width="1" fill="none"/>
<path d="M404 417.500 L412 414.500 L416 410" stroke="#4d5054" stroke-width="1.200" fill="none"/>
<path d="M332 436.5 L340 438 L341 441 L353.4 439 L353 443 L342 445 L336 444.5 L333 440.5 Z" fill="#808387" />
<path d="M350 437 L353.5 436.5 L354 442 L350.5 442.5 Z" fill="#6a6d71" />
<path d="M359.8 417 L362.5 415.5 L364.5 418 L363.5 423.5 L361 424 Z" fill="#7d8084" />
<path d="M383.6 430 L385.5 428.5 L387 430 L386.5 435 L384 435.5 Z" fill="#7d8084" />
<path d="M386 414.600 L390 415.500 L393 419" stroke="#808387" stroke-width="1.600" fill="none"/>
<path d="M394 418.500 L393 428" stroke="#c0392b" stroke-width="1.300" fill="none"/><path d="M392 418 L390.500 426" stroke="#e6c030" stroke-width="1.200" fill="none"/><path d="M388 416 L390 419" stroke="#9fb89f" stroke-width="2" fill="none"/>
<path d="M398 424.5 L402 423.5 L402.5 427.5 L399 428.5 Z" fill="#5d6064" />
<circle cx="291" cy="362" r="1.200" fill="#6a6d71"/>
<circle cx="308.5" cy="371.5" r="1.200" fill="#6a6d71"/>
<circle cx="307.5" cy="371" r="1.200" fill="#6a6d71"/>
<circle cx="331" cy="401" r="1.200" fill="#6a6d71"/>
</g>

<!-- LABELS -->
<g id="labels">
<text class="lbl" text-anchor="middle" x="143.5" y="35.6">20</text>
<line class="ld" x1="153.2" y1="30.3" x2="167" y2="30.3"/>
<text class="lbl" text-anchor="middle" x="146.6" y="100.4">7</text>
<line class="ld" x1="147.7" y1="74.8" x2="147.7" y2="85.5"/>
<text class="lbl" text-anchor="middle" x="276" y="52.5">8</text>
<path class="ld" d="M275.800 55.500 V73.600 M265 82 V73.600 H286.700 V92.500"/>
<text class="lbl" text-anchor="middle" x="309" y="63">6</text>
<line class="ld" x1="309" y1="65.300" x2="309" y2="83.500"/>
<text class="lbl" text-anchor="middle" x="345" y="243.8">1</text>
<line class="ld" x1="345" y1="246" x2="345" y2="271"/>
<text class="lbl" text-anchor="middle" x="289.6" y="392">2</text>
<line class="ld" x1="295" y1="386.500" x2="315" y2="386.500"/>
<text class="lbl" text-anchor="middle" x="458.8" y="272.6">3</text>
<line class="ld" x1="465" y1="267" x2="486.500" y2="267"/>
<text class="lbl" text-anchor="middle" x="123.4" y="382.6">4</text>
<line class="ld" x1="123.500" y1="355" x2="123.500" y2="368.500"/>
<text class="lbl" text-anchor="middle" x="60.1" y="383">5</text>
<line class="ld" x1="65.700" y1="377.500" x2="77.500" y2="377.500"/>
<text class="lbl" text-anchor="middle" x="195.7" y="341.2">19</text>
<line class="ld" x1="175.700" y1="336.400" x2="185.500" y2="336.400"/>
</g>

<g id="sign">
<rect x="494.500" y="371" width="112.300" height="37" rx="3.500" fill="#f7b92b" stroke="#d9991c" stroke-width="1.200"/>
<line x1="536.600" y1="372" x2="536.600" y2="407" stroke="#d9991c" stroke-width="1"/>
<path d="M516.700 376.600 L501.200 403.500 L532.800 403.500 Z" fill="none" stroke="#111" stroke-width="2.900" stroke-linejoin="round"/>
<path d="M518.500 383.500 L512.500 393 L516 393 L513.500 401 L520.500 390.500 L517 390.500 L520 383.500 Z" fill="#111"/>
<path d="M551 375 L545.300 384.800 L556.700 384.800 Z" fill="none" stroke="#111" stroke-width="1.300" stroke-linejoin="round"/>
<path d="M551 378 V382.200" stroke="#111" stroke-width="1.100"/><circle cx="551" cy="383.500" r="0.600" fill="#111"/>
<path d="M541 390.500 C544 389.500 548 389.500 551.500 391.500 V406 C548 404 544 404 541 405 Z" fill="#fff" stroke="#111" stroke-width="1.300" stroke-linejoin="round"/>
<path d="M562 390.500 C559 389.500 555 389.500 551.500 391.500 V406 C555 404 559 404 562 405 Z" fill="#fff" stroke="#111" stroke-width="1.300" stroke-linejoin="round"/>
<path d="M556.800 396.500 V402 M555.500 402 H558.200 M555.800 396.500 H556.800" stroke="#111" stroke-width="1.100" fill="none"/><circle cx="556.800" cy="394.300" r="0.800" fill="#111"/>
<path d="M574.500 372.500 C571.500 376 570.500 380 572.500 383.500 C574.500 386.500 575.500 388.500 575 391.500" fill="none" stroke="#111" stroke-width="2.300" stroke-linecap="round"/>
<path d="M581 405.500 L580.500 398 L579.500 391 L581.500 390 L583.500 394 L583.500 380.500 Q584.500 379 585.700 380.500 L586 389 L586.700 378 Q587.800 376.300 589 378 L589.300 388.500 L590.300 378.700 Q591.500 377.200 592.600 378.800 L592.500 389.500 L594 381.500 Q595.200 380.500 596.200 382 L595.700 393 L598.500 390.500 Q600 390.500 599.700 392 L595.500 400.500 L595 405.500 Z" fill="#111"/>
<path d="M582 396 L587 393.500 L589.500 396 L593 393.500 L597 395.500" fill="none" stroke="#fff" stroke-width="1.100"/>
<path d="M583 399 L587.500 397 L590 399 L593.500 397" fill="none" stroke="#fff" stroke-width="0.800"/>
</g>
<g id="leaders">
<path class="ld" d="M483.300 38.200 L490.500 49.500 M408 200 V210 M440.400 205 V215 M460 211.500 V224 M518.700 245 V251 M499.700 293 V307.500 M524 306.500 V316.500 M163.500 320 L168 316.800 M415.700 393.500 L427.600 400.600 M369.400 438.600 L383.600 415.500 L386 414.600"/>
<path class="dd" d="M447 68.500 L454 86"/>
</g>
<!-- CIRCLED NUMBERS -->
<g id="circles">
<circle class="circ" cx="495.7" cy="58.7" r="8.700"/><text class="cn" transform="translate(495.7 0) scale(1.07 1) translate(-495.7 0)" x="495.7" y="62.5">10</text>
<circle class="circ" cx="457.5" cy="95.0" r="8.700"/><text class="cn" transform="translate(457.5 0) scale(1.07 1) translate(-457.5 0)" x="457.5" y="98.8">9</text>
<circle class="circ" cx="407.5" cy="218.7" r="8.700"/><text class="cn" transform="translate(407.5 0) scale(1.07 1) translate(-407.5 0)" x="407.5" y="222.5">12</text>
<circle class="circ" cx="440.5" cy="223.7" r="8.700"/><text class="cn" transform="translate(440.5 0) scale(1.07 1) translate(-440.5 0)" x="440.5" y="227.5">11</text>
<circle class="circ" cx="460.3" cy="232.5" r="8.700"/><text class="cn" transform="translate(460.3 0) scale(1.07 1) translate(-460.3 0)" x="460.3" y="236.3">16</text>
<circle class="circ" cx="518.7" cy="259.5" r="8.700"/><text class="cn" transform="translate(518.7 0) scale(1.07 1) translate(-518.7 0)" x="518.7" y="263.3">17</text>
<circle class="circ" cx="500.0" cy="316.0" r="8.700"/><text class="cn" transform="translate(500.0 0) scale(1.07 1) translate(-500.0 0)" x="500.0" y="319.8">13</text>
<circle class="circ" cx="524.2" cy="325.0" r="8.700"/><text class="cn" transform="translate(524.2 0) scale(1.07 1) translate(-524.2 0)" x="524.2" y="328.8">16</text>
<circle class="circ" cx="114.6" cy="309.0" r="8.700"/><text class="cn" transform="translate(114.6 0) scale(1.07 1) translate(-114.6 0)" x="114.6" y="312.8">18</text>
<circle class="circ" cx="155.1" cy="324.0" r="8.700"/><text class="cn" transform="translate(155.1 0) scale(1.07 1) translate(-155.1 0)" x="155.1" y="327.8">14</text>
<circle class="circ" cx="436.0" cy="405.5" r="8.700"/><text class="cn" transform="translate(436.0 0) scale(1.07 1) translate(-436.0 0)" x="436.0" y="409.3">15</text>
<circle class="circ" cx="364.0" cy="449.0" r="8.700"/><text class="cn" transform="translate(364.0 0) scale(1.07 1) translate(-364.0 0)" x="364.0" y="452.8">9</text>
</g>
</svg>
</body>
</html>
